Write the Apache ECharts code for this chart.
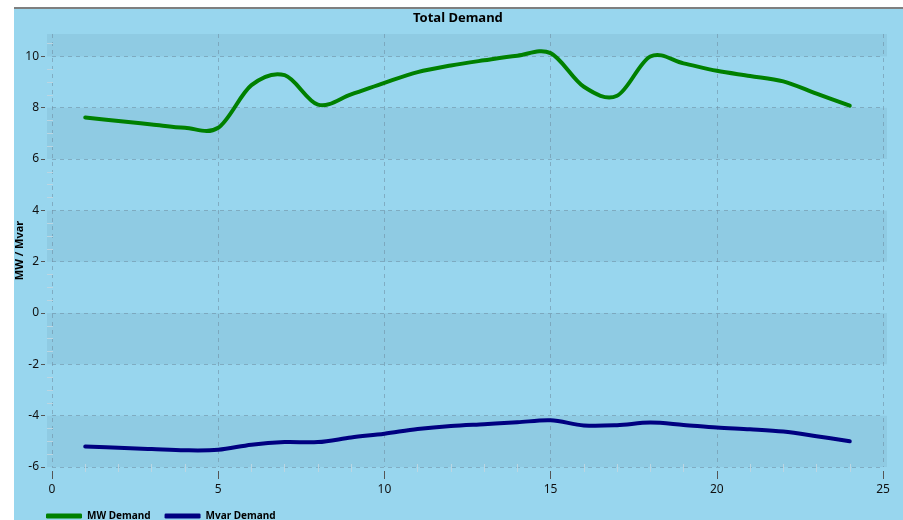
<!DOCTYPE html>
<html>
<head>
<meta charset="utf-8">
<script src="https://cdn.jsdelivr.net/npm/echarts@6/dist/echarts.min.js"></script>
<style>
  html, body { margin: 0; padding: 0; background: #ffffff; }
  #frame { position: absolute; left: 14px; top: 7px; width: 889px; height: 511px; background: #98d6ee; border-top: 2px solid #7f7f7f; }
  #chart { position: absolute; left: 0; top: 0; width: 903px; height: 520px; }
</style>
</head>
<body>
<div id="frame"></div>
<div id="chart"></div>
<script>
const hours = [1, 2, 3, 4, 5, 6, 7, 8, 9, 10, 11, 12, 13, 14, 15, 16, 17, 18, 19, 20, 21, 22, 23, 24];
const mwDemand = [7.62, 7.48, 7.35, 7.22, 7.22, 8.88, 9.27, 8.12, 8.52, 8.97, 9.39, 9.65, 9.85, 10.03, 10.13, 8.82, 8.47, 10.0, 9.73, 9.44, 9.24, 9.03, 8.55, 8.08];
const mvarDemand = [-5.2, -5.25, -5.3, -5.35, -5.33, -5.13, -5.03, -5.03, -4.85, -4.7, -4.52, -4.4, -4.33, -4.26, -4.18, -4.38, -4.37, -4.27, -4.36, -4.46, -4.53, -4.62, -4.8, -5.0];
const seriesNames = ['MW Demand', 'Mvar Demand'];
const seriesColors = ['#008000', '#000080'];
const titleText = 'Total Demand';
const yAxisName = 'MW / Mvar';

const font = 'Noto Sans';
const dashed = { show: true, lineStyle: { type: [4, 4], color: 'rgba(110,140,160,0.55)', width: 1 } };

// Cardinal (Catmull-Rom) spline through the points, positioned by the axes via api.coord
function splineSeries(name, values, color) {
  return {
    name: name, type: 'custom', xAxisIndex: 1, yAxisIndex: 1,
    data: hours.map((h, i) => [h, values[i]]),
    itemStyle: { color: color },
    renderItem: function (params, api) {
      if (params.dataIndex !== 0) return null;
      const pts = hours.map((h, i) => api.coord([h, values[i]]));
      const n = pts.length;
      let d = 'M' + pts[0][0] + ' ' + pts[0][1];
      for (let i = 0; i < n - 1; i++) {
        const p0 = pts[Math.max(i - 1, 0)];
        const p1 = pts[i];
        const p2 = pts[i + 1];
        const p3 = pts[Math.min(i + 2, n - 1)];
        const c1x = p1[0] + (p2[0] - p0[0]) / 6;
        const c1y = p1[1] + (p2[1] - p0[1]) / 6;
        const c2x = p2[0] - (p3[0] - p1[0]) / 6;
        const c2y = p2[1] - (p3[1] - p1[1]) / 6;
        d += ' C' + c1x + ' ' + c1y + ' ' + c2x + ' ' + c2y + ' ' + p2[0] + ' ' + p2[1];
      }
      return {
        type: 'path',
        shape: { pathData: d },
        style: { fill: 'none', stroke: color, lineWidth: 4, lineCap: 'round', lineJoin: 'round' },
        silent: true
      };
    }
  };
}

const chart = echarts.init(document.getElementById('chart'), null, { renderer: 'canvas' });
chart.setOption({
  backgroundColor: 'transparent',
  animation: false,
  title: {
    text: titleText, left: 413, top: 12, padding: 0,
    textStyle: { fontFamily: font, fontSize: 13, fontWeight: 'bold', color: '#000' }
  },
  legend: {
    left: 46, top: 511, padding: 0,
    icon: 'roundRect', itemWidth: 36, itemHeight: 5, itemGap: 14,
    textStyle: { fontFamily: font, fontSize: 10, fontWeight: 'bold', color: '#000' },
    data: seriesNames
  },
  grid: [
    { left: 47, right: 16, top: 34, bottom: 53 },
    { left: 52, right: 20, top: 34, bottom: 53 },
    { left: 52, right: 20, top: 56.4, bottom: 53 }
  ],
  xAxis: [
    { gridIndex: 0, type: 'value', min: 0, max: 1, show: false },
    {
      gridIndex: 1, type: 'value', min: 0, max: 25, interval: 5, offset: -3,
      axisLine: { show: false, onZero: false }, axisTick: { show: false }, axisLabel: { show: false },
      splitLine: dashed,
      minorTick: { show: true, splitNumber: 5, length: 8, lineStyle: { color: '#bcd6e2', width: 1 } }
    },
    {
      gridIndex: 2, type: 'value', min: 0, max: 25, interval: 5, offset: 4,
      axisLine: { show: false, onZero: false },
      axisTick: { show: true, length: 8, lineStyle: { color: '#555', width: 1 } },
      axisLabel: { fontFamily: font, fontSize: 12, color: '#111', margin: 13 },
      splitLine: { show: false }
    }
  ],
  yAxis: [
    {
      gridIndex: 0, type: 'value', min: -6, max: 10.875, interval: 2,
      axisLine: { show: false, onZero: false }, axisTick: { show: false }, axisLabel: { show: false },
      splitLine: { show: false },
      splitArea: { show: true, areaStyle: { color: ['#8fcbe3', 'rgba(0,0,0,0)'] } }
    },
    {
      gridIndex: 1, type: 'value', min: -6, max: 10.875, interval: 2, offset: -1,
      axisLine: { show: false, onZero: false }, axisTick: { show: false }, axisLabel: { show: false },
      splitLine: { show: false },
      minorTick: { show: true, splitNumber: 4, length: 6, lineStyle: { color: '#bcd6e2', width: 1 } },
      name: yAxisName, nameLocation: 'middle', nameGap: 28,
      nameTextStyle: { fontFamily: font, fontSize: 11, fontWeight: 'bold', color: '#000' }
    },
    {
      gridIndex: 2, type: 'value', min: -6, max: 10, interval: 2, offset: 7,
      axisLine: { show: false, onZero: false },
      axisTick: { show: true, length: 4, lineStyle: { color: '#555', width: 1 } },
      axisLabel: { fontFamily: font, fontSize: 12, color: '#111', margin: 6 },
      splitLine: dashed
    }
  ],
  series: [
    splineSeries(seriesNames[0], mwDemand, seriesColors[0]),
    splineSeries(seriesNames[1], mvarDemand, seriesColors[1])
  ]
});
</script>
</body>
</html>
